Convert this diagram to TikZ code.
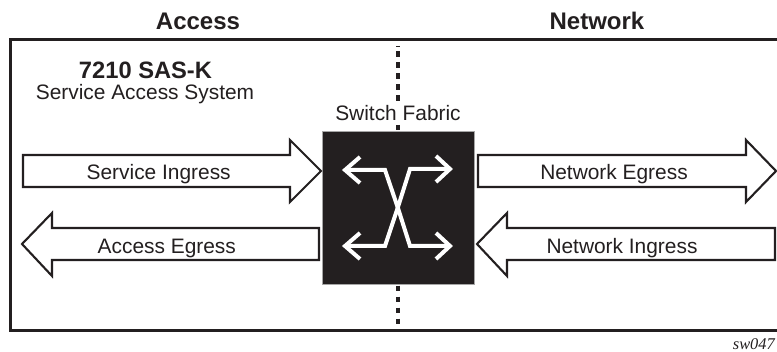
\documentclass[tikz,border=0pt]{standalone}
\usepackage{fontspec}
\setmainfont{Liberation Sans}
\newfontfamily\tagfont{Liberation Serif}
\definecolor{ink}{HTML}{231F20}
\newcommand{\fsz}[1]{\fontsize{#1}{#1}\selectfont}
\tikzset{
  lbl/.style={anchor=base,inner sep=0pt,text=ink,font=\fsz{20.9}},
  headlbl/.style={anchor=base,inner sep=0pt,text=ink,font=\fsz{24}\bfseries},
  flow/.style={draw=ink,line width=2.1pt,fill=white,miter limit=10},
  frameline/.style={draw=ink,line width=3pt},
  divider/.style={draw=ink,line width=3.3pt,dash pattern=on 5.5pt off 5.5pt},
  fabricline/.style={draw=white,line width=4pt,line join=miter,line cap=butt,miter limit=10}
}
\begin{document}
\begin{tikzpicture}[x=1pt,y=-1pt]
\useasboundingbox (0,0) rectangle (777,352);
\fill[white] (0,0) rectangle (777,352);
% frame
\draw[frameline] (777,40) -- (10,40) -- (10,331) -- (777,331);
% divider
\coordinate (dtick) at (398,46);
\coordinate (dtickb) at (398,47);
\coordinate (dtop) at (398,51.5);
\coordinate (dmid0) at (398,101.5);
\coordinate (dstub) at (398,125);
\coordinate (dmid1) at (398,132);
\coordinate (dmid2) at (398,285.7);
\coordinate (dbot) at (398,324.5);
\draw[draw=ink,line width=3.3pt] (dtick) -- (dtickb);
\draw[divider] (dtop) -- (dmid0);
\draw[divider] (dstub) -- (dmid1);
\draw[divider] (dmid2) -- (dbot);
% fabric
\node[draw=gray!70,line width=0.7pt,fill=ink,minimum width=152.5pt,minimum height=152.5pt,inner sep=0pt] (fabric) at (398.2,208) {};
\coordinate (x) at (397.8,207.6);
\draw[fabricline] (345,170) -- (385,170) -- (x) -- (410,246) -- (450,246);
\draw[fabricline] (345,246) -- (385,246) -- (x) -- (410,169) -- (450,169);
\draw[fabricline] (360,157) -- (345,170) -- (360,183);
\draw[fabricline] (360,233) -- (345,246) -- (360,259);
\draw[fabricline] (436,156) -- (450,169) -- (436,182);
\draw[fabricline] (436,233) -- (450,246) -- (436,259);
% flows
\draw[flow] (23,155) -- (290,155) -- (290,140) -- (321,171) -- (290,202) -- (290,187) -- (23,187) -- cycle;
\draw[flow] (22,244) -- (52,213) -- (52,228) -- (319,228) -- (319,260) -- (52,260) -- (52,276) -- cycle;
\draw[flow] (478,155) -- (746,155) -- (746,140) -- (776,171) -- (746,202) -- (746,187) -- (478,187) -- cycle;
\draw[flow] (477,244) -- (507,213) -- (507,228) -- (775,228) -- (775,260) -- (507,260) -- (507,276) -- cycle;
% labels
\node[headlbl] (access) at (198,29.8) {Access};
\node[headlbl] (network) at (597,29.8) {Network};
\node[lbl,font=\fsz{23.7}\bfseries] (model) at (145.5,78.5) {7210 SAS-K};
\node[lbl] (sas) at (145,99.5) {Service Access System};
\node[lbl] (sf) at (398,121) {Switch Fabric};
\node[lbl] (si) at (158.7,180) {Service Ingress};
\node[lbl] (ae) at (166.8,253.5) {Access Egress};
\node[lbl] (ne) at (614,180) {Network Egress};
\node[lbl] (ni) at (622,253.5) {Network Ingress};
\node[anchor=base east,inner sep=0pt,text=ink,font=\tagfont\itshape\fsz{16.4}] (tag) at (775,350) {sw047};
\end{tikzpicture}
\end{document}
